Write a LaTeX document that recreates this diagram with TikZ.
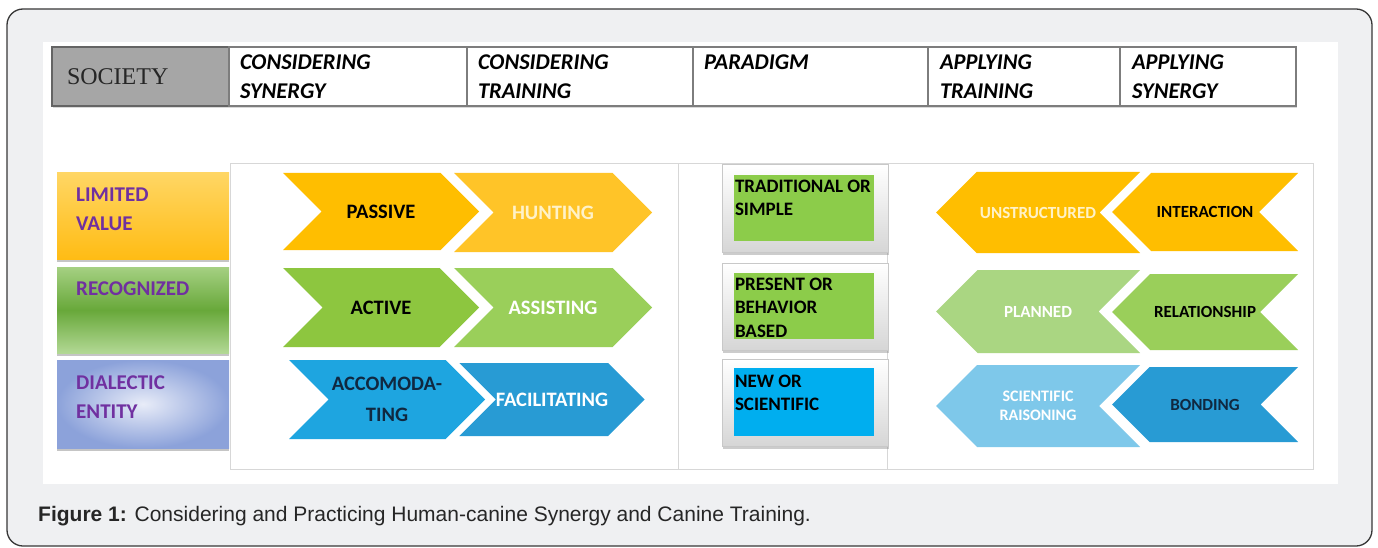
\documentclass[tikz,border=0pt]{standalone}
\usepackage{fontspec}
\newfontfamily\calib{Carlito}
\newfontfamily\arialf{Liberation Sans}
\newfontfamily\timesf{Liberation Serif}
\usetikzlibrary{positioning,shapes.symbols,shadows}
\definecolor{FrameBg}{RGB}{239,240,242}
\definecolor{FrameLine}{RGB}{55,55,55}
\definecolor{HdrLine}{RGB}{125,125,125}
\definecolor{SocGray}{RGB}{166,166,166}
\definecolor{PanelLine}{RGB}{215,215,215}
\definecolor{TextPurple}{RGB}{112,48,160}
\definecolor{LimTop}{RGB}{255,214,100}
\definecolor{LimBot}{RGB}{255,188,20}
\definecolor{RecTop}{RGB}{165,208,130}
\definecolor{RecMid}{RGB}{104,168,58}
\definecolor{RecBot}{RGB}{178,216,148}
\definecolor{DiaEdge}{RGB}{140,162,218}
\definecolor{DiaLight}{RGB}{232,236,248}
\definecolor{Gold}{RGB}{255,190,0}
\definecolor{GoldLight}{RGB}{255,196,40}
\definecolor{GoldText}{RGB}{255,242,200}
\definecolor{LeafGreen}{RGB}{141,198,63}
\definecolor{LeafLight}{RGB}{154,207,90}
\definecolor{LeafPale}{RGB}{170,214,130}
\definecolor{SkyBlue}{RGB}{30,165,224}
\definecolor{SkyDeep}{RGB}{40,155,212}
\definecolor{SkyPale}{RGB}{126,200,234}
\definecolor{Navy}{RGB}{16,40,64}
\definecolor{ParaGreen}{RGB}{140,204,74}
\definecolor{ParaBlue}{RGB}{0,174,239}
\definecolor{ParaEdge}{RGB}{200,200,200}
\definecolor{ParaShade}{RGB}{214,214,214}
\tikzset{
  frame/.style={draw=FrameLine,fill=FrameBg,line width=1.3pt,rounded corners=16pt},
  hdrcell/.style={draw=HdrLine,line width=1.6pt,fill=white,minimum height=59pt,
    inner xsep=11pt,inner ysep=0pt,outer sep=0pt,align=left,
    font=\calib\bfseries\itshape\fontsize{22.5}{28.5}\selectfont,
    drop shadow={shadow xshift=1pt,shadow yshift=-2pt,opacity=.3}},
  soccell/.style={hdrcell,fill=SocGray,draw=HdrLine!80!black,inner xsep=15pt,
    text=black!85,font=\timesf\fontsize{24}{28}\selectfont},
  rowbox/.style={minimum width=172pt,minimum height=86pt,inner sep=0pt,outer sep=0pt,
    drop shadow={shadow xshift=0pt,shadow yshift=-2.5pt,opacity=.45}},
  rowtext/.style={inner sep=0pt,anchor=north west,align=left,text=TextPurple,
    font=\calib\bfseries\fontsize{21}{29}\selectfont},
  chevr/.style={signal,signal to=east,signal from=west,draw=none,inner sep=0pt,
    outer sep=0pt,align=center,font=\calib\bfseries\fontsize{20.5}{31}\selectfont},
  chevl/.style={signal,signal to=west,signal from=east,draw=none,inner sep=0pt,
    outer sep=0pt,align=center,font=\calib\bfseries\fontsize{17}{19}\selectfont},
  parabox/.style={draw=ParaEdge,line width=1pt,top color=white,bottom color=ParaShade,
    minimum width=166pt,minimum height=87pt,inner sep=0pt,outer sep=0pt,
    drop shadow={shadow xshift=1pt,shadow yshift=-3pt,opacity=.4}},
  parainner/.style={minimum width=140pt,minimum height=66pt,inner sep=0pt},
  paratext/.style={inner sep=0pt,anchor=north west,align=left,
    font=\calib\bfseries\fontsize{19}{23.5}\selectfont},
  caption/.style={anchor=west,inner sep=0pt,text=black!85,
    font=\arialf\fontsize{21}{24}\selectfont}
}

\begin{document}
\begin{tikzpicture}[x=1pt,y=-1pt]
\useasboundingbox (0,0) rectangle (1378,548);

% outer frame and the white figure area
\draw[frame] (7,9) rectangle (1372,546);
\fill[white] (43,42) rectangle (1338,484);

% header row
\node[soccell,anchor=north west,minimum width=177pt,text width=147pt] (soc) at (52,47) {SOCIETY};
\node[hdrcell,right=0pt of soc,minimum width=238pt,text width=216pt] (hcs) {CONSIDERING\\SYNERGY};
\node[hdrcell,right=0pt of hcs,minimum width=226pt,text width=204pt] (hct) {CONSIDERING\\TRAINING};
\node[hdrcell,right=0pt of hct,minimum width=235pt,text width=213pt] (hpar) {PARADIGM\\\mbox{}};
\node[hdrcell,right=0pt of hpar,minimum width=192pt,text width=168pt] (hat) {APPLYING\\TRAINING};
\node[hdrcell,right=0pt of hat,minimum width=176pt,text width=152pt] (has) {APPLYING\\SYNERGY};

% body panel
\draw[PanelLine,line width=1pt] (230,164) rectangle (1313,469);
\draw[PanelLine,line width=1pt] (678,164) -- (678,469);
\draw[PanelLine,line width=1pt] (887,164) -- (887,469);

% row labels
\node[rowbox,anchor=north west,top color=LimTop,bottom color=LimBot] (lim) at (57,173) {};
\node[rowbox,below=8pt of lim,top color=RecTop,bottom color=RecBot,middle color=RecMid] (rec) {};
\node[rowbox,below=7pt of rec,minimum height=88pt,inner color=DiaLight,outer color=DiaEdge] (dia) {};
\node[rowtext,below right=15pt and 19pt of lim.north west] (limt) {LIMITED\\VALUE};
\node[rowtext,below right=15pt and 19pt of rec.north west] (rect) {RECOGNIZED};
\node[rowtext,below right=16pt and 19pt of dia.north west] (diat) {DIALECTIC\\ENTITY};

% considering synergy / training
\node[chevr,fill=Gold,minimum width=196pt,minimum height=77pt] (pas) at (381,211.5) {PASSIVE};
\node[chevr,fill=GoldLight,text=GoldText,minimum width=198pt,minimum height=79pt] (hun) at (553,212.5) {HUNTING};
\node[chevr,fill=LeafGreen,minimum width=196pt,minimum height=79pt] (act) at (381,307.5) {ACTIVE};
\node[chevr,fill=LeafLight,text=white,minimum width=198pt,minimum height=79pt] (ass) at (553,307.5) {ASSISTING};
\node[chevr,fill=SkyBlue,text=Navy,minimum width=196pt,minimum height=79pt] (acc) at (387,399.5) {ACCOMODA-\\TING};
\node[chevr,fill=SkyDeep,text=white,minimum width=184pt,minimum height=73pt] (fac) at (552,399.5) {FACILITATING};

% paradigm
\node[parabox] (par1) at (805,208.5) {};
\node[parabox] (par2) at (805,306.5) {};
\node[parabox] (par3) at (805,402.5) {};
\node[parainner,fill=ParaGreen] (in1) at (804,208) {};
\node[parainner,fill=ParaGreen] (in2) at (804,306) {};
\node[parainner,fill=ParaBlue,minimum height=68pt] (in3) at (804,402) {};
\node[paratext,below right=5pt and 1pt of in1.north west] (pt1) {TRADITIONAL OR\\SIMPLE};
\node[paratext,below right=5pt and 1pt of in2.north west] (pt2) {PRESENT OR\\BEHAVIOR\\BASED};
\node[paratext,below right=7pt and 1pt of in3.north west] (pt3) {NEW OR\\SCIENTIFIC};

% applying training / synergy
\node[chevl,fill=Gold,text=GoldText,minimum width=204pt,minimum height=81pt] (uns) at (1038,212.5) {UNSTRUCTURED};
\node[chevl,fill=Gold,minimum width=186pt,minimum height=78pt] (int) at (1205,212) {INTERACTION};
\node[chevl,fill=LeafPale,text=white,minimum width=204pt,minimum height=83pt] (pla) at (1038,311.5) {PLANNED};
\node[chevl,fill=LeafLight,minimum width=186pt,minimum height=76pt] (rel) at (1205,312) {RELATIONSHIP};
\node[chevl,fill=SkyPale,text=white,minimum width=204pt,minimum height=82pt,font=\calib\bfseries\fontsize{16}{19}\selectfont] (sci) at (1038,406) {SCIENTIFIC\\RAISONING};
\node[chevl,fill=SkyDeep,text=Navy,minimum width=186pt,minimum height=75pt] (bon) at (1205,404.5) {BONDING};

% caption
\node[caption] (cap) at (38,516) {\textbf{Figure 1:} Considering and Practicing Human-canine Synergy and Canine Training.};
\end{tikzpicture}
\end{document}
